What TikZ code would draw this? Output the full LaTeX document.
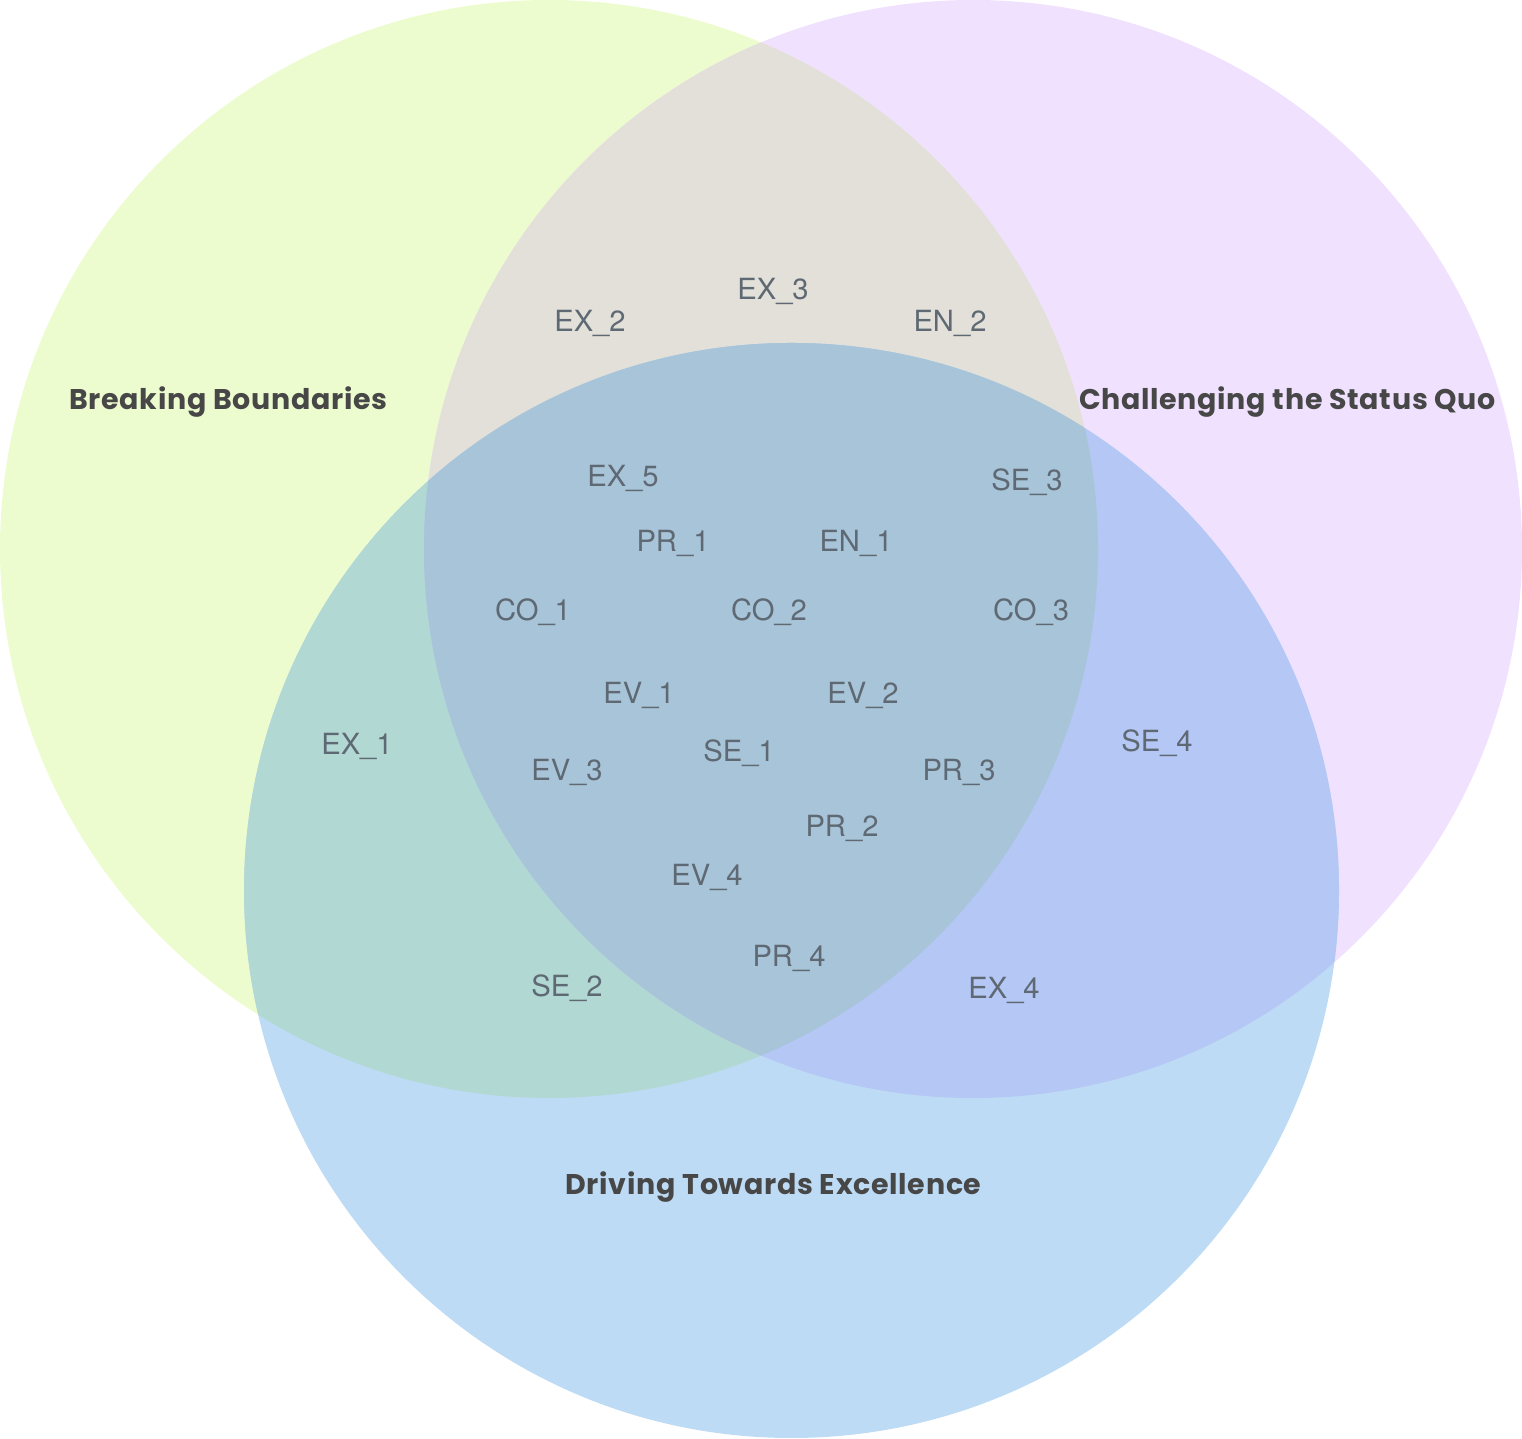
\documentclass[tikz,border=0pt]{standalone}
\usepackage{fontspec}
\usepackage{xcolor}
\usepackage{tikz}
\newfontfamily\labelfont{TeX Gyre Heros}
\newfontfamily\titlefont{Poppins}[LetterSpace=2.5]
\definecolor{limefill}{HTML}{EDFCCF}
\definecolor{lilacfill}{HTML}{F0E2FF}
\definecolor{skyfill}{HTML}{BEDBF5}
\definecolor{limelilac}{HTML}{E2E0D8}
\definecolor{limesky}{HTML}{B2D8D4}
\definecolor{lilacsky}{HTML}{B4C7F5}
\definecolor{allthree}{HTML}{A8C4D8}
\definecolor{itemgray}{HTML}{5E6973}
\definecolor{titlegray}{HTML}{474747}
\tikzset{
    every picture/.style={line cap=round,line join=round},
    setlabel/.style={anchor=base,inner sep=0pt,text=titlegray,
      font=\titlefont\bfseries\fontsize{8.1}{9}\selectfont},
    itemlabel/.style={anchor=base,inner sep=0pt,text=itemgray,
      font=\labelfont\fontsize{8.3}{10}\selectfont}
}
\newcommand{\limecircle}{(5.49,8.89) circle (5.49)}
\newcommand{\lilaccircle}{(9.73,8.89) circle (5.49)}
\newcommand{\skycircle}{(7.915,5.475) circle (5.475)}

\begin{document}
\begin{tikzpicture}
  \useasboundingbox (0,0) rectangle (15.22,14.38);
  % the three sets
  \fill[limefill] \limecircle;
  \fill[lilacfill] \lilaccircle;
  \fill[skyfill] \skycircle;
  % pairwise overlaps
  \begin{scope}
    \clip \limecircle;
    \fill[limelilac] \lilaccircle;
    \fill[limesky] \skycircle;
  \end{scope}
  \begin{scope}
    \clip \lilaccircle;
    \fill[lilacsky] \skycircle;
  \end{scope}
  % centre
  \begin{scope}
    \clip \limecircle;
    \clip \lilaccircle;
    \fill[allthree] \skycircle;
  \end{scope}
  % set names
  \node[setlabel] (breaking) at (2.285,10.28) {Breaking Boundaries};
  \node[setlabel] (challenging) at (12.875,10.28) {Challenging the Status Quo};
  \node[setlabel] (driving) at (7.735,2.43) {Driving Towards Excellence};
  % items
  \foreach \a/\b/\x/\y in {EX/3/7.73/11.38, EX/2/5.90/11.06, EN/2/9.50/11.06,
      EX/5/6.23/9.51, SE/3/10.27/9.47, PR/1/6.73/8.86, EN/1/8.56/8.86,
      CO/1/5.33/8.17, CO/2/7.69/8.17, CO/3/10.31/8.17,
      EV/1/6.39/7.34, EV/2/8.63/7.34, EX/1/3.57/6.83, SE/4/11.57/6.86,
      SE/1/7.39/6.76, EV/3/5.67/6.57, PR/3/9.59/6.57, PR/2/8.42/6.01,
      EV/4/7.07/5.52, PR/4/7.89/4.71, SE/2/5.67/4.41, EX/4/10.04/4.39} {
    \node[itemlabel] (\a\b) at (\x,\y) {\a\_\b};
  }
\end{tikzpicture}
\end{document}
